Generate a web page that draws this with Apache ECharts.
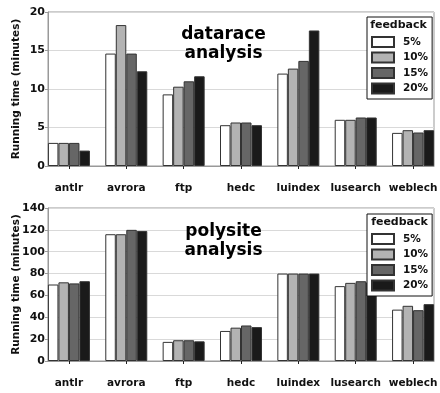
<!DOCTYPE html>
<html><head><meta charset="utf-8">
<script src="https://cdn.jsdelivr.net/npm/echarts@6/dist/echarts.min.js"></script>
<style>html,body{margin:0;padding:0;background:#fff}#c{width:440px;height:393px}</style>
</head><body><div id="c"></div>
<script>
const categories = ['antlr','avrora','ftp','hedc','luindex','lusearch','weblech'];
const feedbackLevels = ['5%','10%','15%','20%'];
const datarace5  = [3.0, 14.6, 9.3, 5.3, 12.0, 6.0, 4.3];
const datarace10 = [3.0, 18.3, 10.3, 5.65, 12.65, 6.0, 4.65];
const datarace15 = [3.0, 14.6, 11.0, 5.65, 13.65, 6.3, 4.35];
const datarace20 = [2.0, 12.3, 11.65, 5.3, 17.6, 6.3, 4.65];
const polysite5  = [70, 116, 17.5, 27.5, 80, 68.5, 47];
const polysite10 = [72, 116, 19, 30.5, 80, 71.5, 50.5];
const polysite15 = [71, 120, 19, 32.5, 80, 73, 46.5];
const polysite20 = [73, 119, 18, 31, 80, 72, 52];
const dataraceTicks = [0, 5, 10, 15, 20];
const polysiteTicks = [0, 20, 40, 60, 80, 100, 120, 140];

const colors = ['#ffffff', '#b3b3b3', '#666666', '#1a1a1a'];
const FONT = 'DejaVu Sans';
const chart = echarts.init(document.getElementById('c'), null, {renderer: 'canvas'});

function xAxis(gi) {
  return {
    type: 'value', gridIndex: gi, min: -0.365, max: 6.365,
    splitLine: {show: false},
    axisLine: {show: true, onZero: false, lineStyle: {color: '#999', width: 1}},
    axisTick: {show: true, customValues: categories.map((c, i) => i), length: 3, inside: false, lineStyle: {color: '#222'}},
    axisLabel: {show: true, customValues: categories.map((c, i) => i), formatter: v => categories[Math.round(v)],
      fontFamily: FONT, fontWeight: 'bold', fontSize: 10.5, color: '#111', margin: 16.5}
  };
}
function yAxis(gi, ticks) {
  return {
    type: 'value', gridIndex: gi, min: ticks[0], max: ticks[ticks.length - 1], interval: ticks[1] - ticks[0],
    name: 'Running time (minutes)', nameLocation: 'middle', nameGap: 26, nameMoveOverlap: false,
    nameTextStyle: {fontFamily: FONT, fontWeight: 'bold', fontSize: 10.5, color: '#111'},
    axisLine: {show: true, onZero: false, lineStyle: {color: '#999'}},
    axisTick: {show: true, length: 3, lineStyle: {color: '#999'}},
    axisLabel: {fontFamily: FONT, fontWeight: 'bold', fontSize: 11, color: '#111', margin: 3},
    splitLine: {show: true, lineStyle: {color: '#d9d9d9', width: 1}}
  };
}
function legend(gi, top) {
  return {
    show: true, data: feedbackLevels, orient: 'vertical', left: 367, top: top, icon: 'rect',
    padding: [18.5, 4, 4, 4], itemWidth: 22, itemHeight: 10, itemGap: 2.5,
    backgroundColor: '#fff', borderColor: '#111', borderWidth: 1, selectedMode: false,
    textStyle: {fontFamily: FONT, fontWeight: 'bold', fontSize: 10.5, color: '#111', lineHeight: 13, padding: [0, 0, 0, 4]},
    z: 10
  };
}
const groups = [[datarace5, datarace10, datarace15, datarace20], [polysite5, polysite10, polysite15, polysite20]];
const series = [];
groups.forEach((g, gi) => {
  g.forEach((vals, si) => {
    series.push({
      type: 'bar', name: feedbackLevels[si], xAxisIndex: gi, yAxisIndex: gi,
      data: vals.map((v, i) => [i, v]), barWidth: 10.5, barGap: '0%',
      itemStyle: {color: colors[si], borderColor: '#333', borderWidth: 1},
      emphasis: {disabled: true}, animation: false
    });
  });
});
chart.setOption({
  animation: false,
  grid: [
    {left: 48, right: 6, top: 12, height: 154, show: true, borderColor: '#999', borderWidth: 1, backgroundColor: 'transparent', outerBoundsMode: 'none', containLabel: false},
    {left: 48, right: 6, top: 208, height: 153, show: true, borderColor: '#999', borderWidth: 1, backgroundColor: 'transparent', outerBoundsMode: 'none', containLabel: false}
  ],
  xAxis: [xAxis(0), xAxis(1)],
  yAxis: [yAxis(0, dataraceTicks), yAxis(1, polysiteTicks)],
  legend: [legend(0, 17), legend(1, 214)],
  series: series,
  graphic: [
    {type: 'text', z: 100, style: {text: 'datarace\nanalysis', x: 223.5, y: 25.5, textAlign: 'center', textVerticalAlign: 'top', font: 'bold 17px "DejaVu Sans"', lineHeight: 19, fill: '#000'}},
    {type: 'text', z: 100, style: {text: 'polysite\nanalysis', x: 223.5, y: 222.5, textAlign: 'center', textVerticalAlign: 'top', font: 'bold 17px "DejaVu Sans"', lineHeight: 19, fill: '#000'}},
    {type: 'text', z: 100, style: {text: 'feedback', x: 398.5, y: 20, textAlign: 'center', textVerticalAlign: 'top', font: 'bold 11px "DejaVu Sans"', fill: '#111'}},
    {type: 'text', z: 100, style: {text: 'feedback', x: 399.5, y: 217, textAlign: 'center', textVerticalAlign: 'top', font: 'bold 11px "DejaVu Sans"', fill: '#111'}}
  ]
});
</script></body></html>
